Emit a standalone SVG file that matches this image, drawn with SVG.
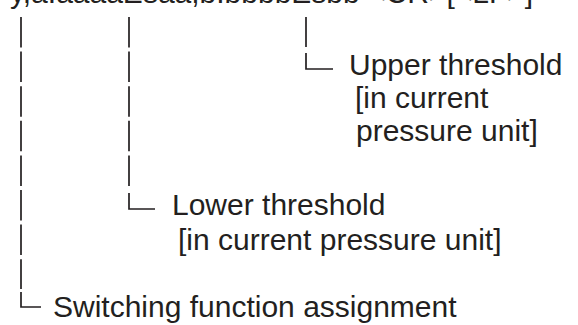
<svg xmlns="http://www.w3.org/2000/svg" width="578" height="325" viewBox="0 0 578 325">
  <style>
    .t { font-family: "Liberation Sans", Arial, sans-serif; font-size: 30px; fill: #231f20; }
    .pipe { fill: none; stroke: #231f20; stroke-width: 1.7; stroke-dasharray: 30.5 4.1; }
    .corner { fill: none; stroke: #231f20; stroke-width: 1.7; }
  </style>
  <rect width="578" height="325" fill="#ffffff"/>
  <g id="command">
    <text class="t" x="10" y="3">y,a.aaaaEsaa,b.bbbbEsbb &lt;CR&gt;[&lt;LF&gt;]</text>
  </g>
  <g id="connectors">
    <path class="pipe" d="M21 17 V289"/>
    <path class="corner" d="M21 292 V307 H41"/>
    <path class="pipe" d="M129 17 V188"/>
    <path class="corner" d="M129 193 V209 H155"/>
    <path class="pipe" d="M306 17 V47"/>
    <path class="corner" d="M306 53 V69 H333"/>
  </g>
  <g id="upper-threshold">
    <text class="t" x="349" y="75">Upper threshold</text>
    <text class="t" x="355" y="108">[in current</text>
    <text class="t" x="356" y="141">pressure unit]</text>
  </g>
  <g id="lower-threshold">
    <text class="t" x="172" y="215">Lower threshold</text>
    <text class="t" x="178" y="250">[in current pressure unit]</text>
  </g>
  <g id="switching-function">
    <text class="t" x="53" y="317">Switching function assignment</text>
  </g>
</svg>
